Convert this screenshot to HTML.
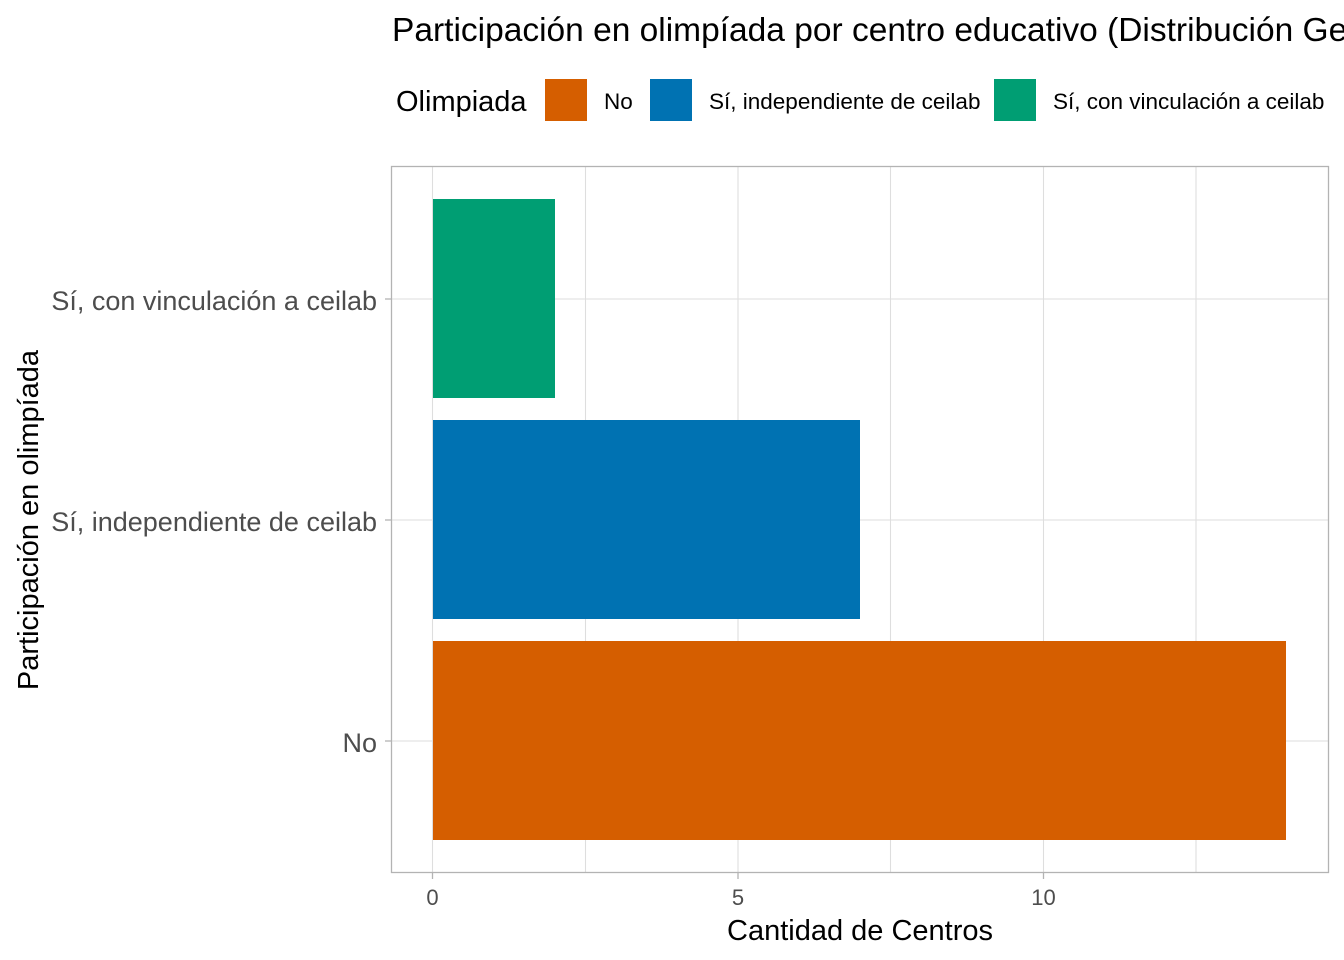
<!DOCTYPE html>
<html><head><meta charset="utf-8"><style>
html,body{margin:0;padding:0;background:#fff;width:1344px;height:960px;overflow:hidden}
svg text{font-family:"Liberation Sans",Arial,sans-serif}
</style></head><body>
<svg width="1344" height="960" xmlns="http://www.w3.org/2000/svg">
<rect width="1344" height="960" fill="#fff"/>
<text x="392" y="41" font-size="33.5" fill="#000">Participación en olimpíada por centro educativo (Distribución General)</text>
<text x="396" y="111" font-size="29" fill="#000">Olimpiada</text>
<rect x="545" y="79" width="42" height="42" fill="#D55E00"/>
<text x="604" y="109" font-size="22.5" fill="#000">No</text>
<rect x="650" y="79" width="42" height="42" fill="#0072B2"/>
<text x="709" y="109" font-size="22.5" fill="#000">Sí, independiente de ceilab</text>
<rect x="994" y="79" width="42" height="42" fill="#009E73"/>
<text x="1053" y="109" font-size="22.5" fill="#000">Sí, con vinculación a ceilab</text>
<g stroke="#dedede" stroke-width="1.1">
<line x1="585.5" y1="167" x2="585.5" y2="872"/>
<line x1="890.5" y1="167" x2="890.5" y2="872"/>
<line x1="1196" y1="167" x2="1196" y2="872"/>
<line x1="432.5" y1="167" x2="432.5" y2="872"/>
<line x1="738" y1="167" x2="738" y2="872"/>
<line x1="1043.5" y1="167" x2="1043.5" y2="872"/>
<line x1="392" y1="299" x2="1328" y2="299"/>
<line x1="392" y1="520" x2="1328" y2="520"/>
<line x1="392" y1="741" x2="1328" y2="741"/>
</g>
<rect x="433" y="199" width="122" height="199" fill="#009E73"/>
<rect x="433" y="420" width="427" height="199" fill="#0072B2"/>
<rect x="433" y="641" width="853" height="199" fill="#D55E00"/>
<rect x="391.5" y="166.5" width="937" height="706" fill="none" stroke="#b3b3b3" stroke-width="1.3"/>
<g stroke="#b3b3b3" stroke-width="1.3">
<line x1="432.5" y1="873" x2="432.5" y2="879"/>
<line x1="738" y1="873" x2="738" y2="879"/>
<line x1="1043.5" y1="873" x2="1043.5" y2="879"/>
<line x1="385" y1="299" x2="391" y2="299"/>
<line x1="385" y1="520" x2="391" y2="520"/>
<line x1="385" y1="741" x2="391" y2="741"/>
</g>
<g font-size="22" fill="#4d4d4d" text-anchor="middle">
<text x="432.5" y="905">0</text>
<text x="738" y="905">5</text>
<text x="1043.5" y="905">10</text>
</g>
<g font-size="27" fill="#4d4d4d" text-anchor="end">
<text x="377" y="310">Sí, con vinculación a ceilab</text>
<text x="377" y="531">Sí, independiente de ceilab</text>
<text x="377" y="752">No</text>
</g>
<text x="860" y="940" font-size="29" fill="#000" text-anchor="middle">Cantidad de Centros</text>
<text transform="translate(38,520) rotate(-90)" font-size="29" fill="#000" text-anchor="middle">Participación en olimpíada</text>
</svg>
</body></html>
